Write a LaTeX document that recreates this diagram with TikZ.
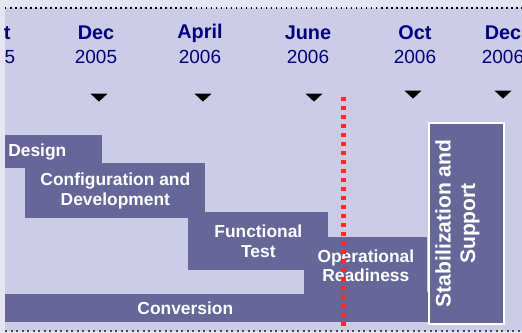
\documentclass[tikz,border=0pt]{standalone}
\usepackage{fontspec}
\setmainfont{Liberation Sans}
\usetikzlibrary{shapes,positioning}

\definecolor{frameback}{RGB}{230,230,242}
\definecolor{paneback}{RGB}{204,204,230}
\definecolor{barblue}{RGB}{102,102,153}
\definecolor{monthblue}{RGB}{0,0,128}
\definecolor{nowred}{RGB}{255,40,40}

\begin{document}
\begin{tikzpicture}[x=0.02cm, y=-0.02cm, node distance=0.48cm,
    month/.style={text=monthblue, font=\fontsize{11.3}{13}\selectfont\bfseries, inner sep=0pt},
    year/.style={text=monthblue, font=\fontsize{10.8}{13}\selectfont, inner sep=0pt},
    phase/.style={fill=barblue, text=white, font=\fontsize{9.9}{11.3}\selectfont\bfseries, anchor=north west, align=center, inner sep=0pt},
    marker/.style={fill=black, isosceles triangle, isosceles triangle stretches, shape border rotate=270, minimum width=0.34cm, minimum height=0.16cm, inner sep=0pt},
    nowline/.style={draw=nowred, line width=0.1cm, dash pattern=on 0.08cm off 0.1cm}]
    \useasboundingbox (0,0) rectangle (522,333);
    \fill[frameback] (0,0) rectangle (522,333);
    \fill[paneback] (5,8) rectangle (522,331);
    \draw[dotted, line width=0.03cm] (5,8) -- (522,8);
    \draw[dotted, line width=0.04cm, black!70] (5,331) -- (522,331);

    \begin{scope}
        \clip (5,8) rectangle (522,331);
        % months along the top
        \node (m0) [month] at (-6,33) {Oct};
        \node (y0) [year, below of=m0] {2005};
        \node (m1) [month] at (96,33) {Dec};
        \node (y1) [year, below of=m1] {2005};
        \node (m2) [month] at (200,33) {April};
        \node (y2) [year, below of=m2] {2006};
        \node (m3) [month] at (308,33) {June};
        \node (y3) [year, below of=m3] {2006};
        \node (m4) [month] at (415,33) {Oct};
        \node (y4) [year, below of=m4] {2006};
        \node (m5) [month] at (503,33) {Dec};
        \node (y5) [year, below of=m5] {2006};

        \node (t1) [marker] at (99,97) {};
        \node (t2) [marker] at (203,97) {};
        \node (t3) [marker] at (314,97) {};
        \node (t4) [marker] at (413,94) {};
        \node (t5) [marker] at (503,94) {};

        % phases
        \node (design) [phase, minimum width=1.94cm, minimum height=0.66cm, text width=1.82cm, inner xsep=0.06cm, align=left] at (5,135) {Design};
        \node (config) [phase, minimum width=3.6cm, minimum height=1.1cm] at (25,163) {Configuration and\\Development};
        \node (functest) [phase, minimum width=2.8cm, minimum height=1.16cm] at (188,212) {Functional\\Test};
        \node (oper) [phase, minimum width=2.46cm, minimum height=1.14cm] at (304,237) {Operational\\Readiness};
        \fill[barblue] ([yshift=0.06cm]oper.south west) rectangle (oper.east |- 0,322);
        \node (conv) [phase, minimum width=7.2cm, minimum height=0.56cm] at (5,294) {Conversion};

        \node (stab) [fill=barblue, draw=white, line width=0.04cm, rotate=90, minimum width=4.02cm, minimum height=1.5cm] at (466.5,223.5) {};
        \node (stabtext) [text=white, font=\fontsize{12}{14}\selectfont\bfseries, rotate=90, align=center, inner sep=0pt] at (457.5,223.5) {Stabilization and\\Support};

        \coordinate (nowtop) at (344,97);
        \coordinate (nowbot) at (344,327);
        \draw[nowline] (nowtop) -- (nowbot);
    \end{scope}
\end{tikzpicture}
\end{document}
